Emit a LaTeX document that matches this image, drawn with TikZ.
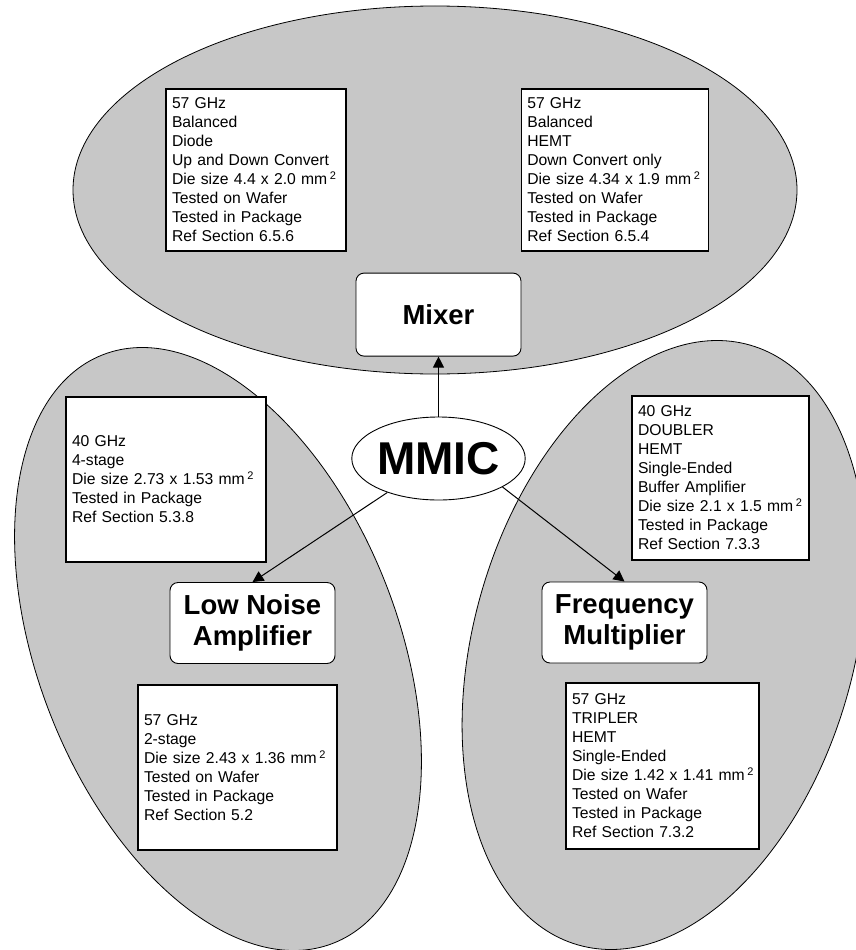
\documentclass[tikz,border=0pt]{standalone}
\usepackage{fontspec}
\setmainfont{Liberation Sans}
\usetikzlibrary{positioning, arrows.meta, shapes.geometric}

\tikzset{
  region/.style={draw, line width=0.8pt, fill=black!22},
  info/.style 2 args={draw, fill=white, line width=1.3pt, align=left,
    inner xsep=6pt, inner ysep=0pt, text width=#1, minimum height=#2,
    font=\fontsize{15.7}{19}\selectfont},
  topic/.style={draw, fill=white, rounded corners=8pt, line width=0.9pt,
    align=center, minimum width=165pt, minimum height=81pt,
    font=\fontsize{27.5}{31}\selectfont\bfseries},
  link/.style={line width=1pt, -{Triangle[length=11pt, width=11pt]}}
}
\newcommand{\sqmm}{mm\,\textsuperscript{2}}

\begin{document}
\begin{tikzpicture}[x=1pt, y=1pt]
        \useasboundingbox (0,0) rectangle (856,-950);
        \clip (0,0) rectangle (856,-950);

        % the three groups
        \draw[region] (435,-190) ellipse [x radius=362pt, y radius=184pt];
        \draw[region] (218,-649) ellipse [x radius=316pt, y radius=180pt, rotate=-68.6];
        \draw[region] (664,-645) ellipse [x radius=312pt, y radius=190pt, rotate=74];

        % centre and group titles
        \node[draw, ellipse, fill=white, line width=0.9pt, minimum width=167pt,
              minimum height=83pt, inner sep=0pt,
              font=\fontsize{46}{46}\selectfont\bfseries] (mmic) at (438.5,-458.5) {MMIC};
        \node[topic, minimum height=83pt, above=60pt of mmic] (mixer) {Mixer};
        \node[topic] (lna) at (252.5,-623) {Low Noise\\Amplifier};
        \node[topic] (fm) at (624.5,-622.5) {Frequency\\Multiplier};

        \draw[link] (mmic) -- (mixer);
        \draw[link] (mmic) -- (lna.north);
        \draw[link] (mmic.-24) -- (fm.north);

        % chip data
        \node[info={168pt}{162pt}] (mixdiode) at (256,-170) {57 GHz\\Balanced\\Diode\\Up and Down Convert\\Die~size~4.4~x~2.0~\sqmm\\Tested on Wafer\\Tested in Package\\Ref Section 6.5.6};
        \node[info={175pt}{162pt}, right=174pt of mixdiode] (mixhemt) {57 GHz\\Balanced\\HEMT\\Down Convert only\\Die~size~4.34~x~1.9~\sqmm\\Tested on Wafer\\Tested in Package\\Ref Section 6.5.4};
        \node[info={188pt}{165pt}] (lnafour) at (166,-479.5) {40 GHz\\4-stage\\Die~size~2.73~x~1.53~\sqmm\\Tested in Package\\Ref Section 5.3.8};
        \node[info={187pt}{165pt}] (lnatwo) at (237.5,-767.5) {57 GHz\\2-stage\\Die~size~2.43~x~1.36~\sqmm\\Tested on Wafer\\Tested in Package\\Ref Section 5.2};
        \node[info={165pt}{164pt}] (fmdoubler) at (720.5,-478) {40 GHz\\DOUBLER\\HEMT\\Single-Ended\\Buffer Amplifier\\Die~size~2.1~x~1.5~\sqmm\\Tested in Package\\Ref Section 7.3.3};
        \node[info={181pt}{166pt}] (fmtripler) at (662.5,-766) {57 GHz\\TRIPLER\\HEMT\\Single-Ended\\Die~size~1.42~x~1.41~\sqmm\\Tested on Wafer\\Tested in Package\\Ref Section 7.3.2};
\end{tikzpicture}
\end{document}
